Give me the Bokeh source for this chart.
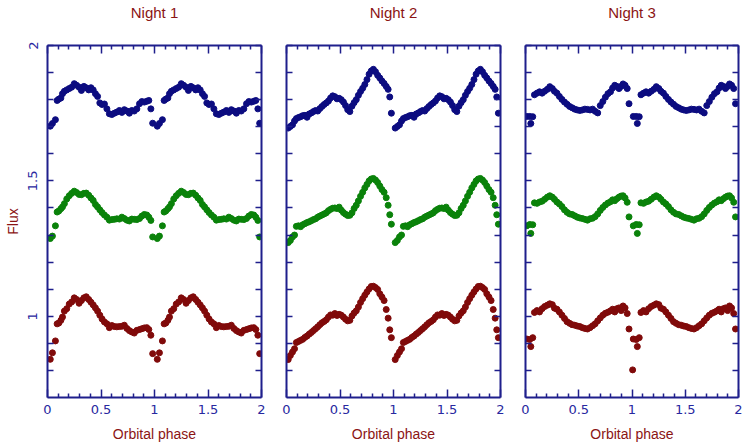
import math

from bokeh.embed import file_html
from bokeh.layouts import row
from bokeh.models import ColumnDataSource, FixedTicker, LinearAxis, Range1d
from bokeh.plotting import figure
from bokeh.resources import INLINE

# ---------------------------------------------------------------------------
# Light curves: orbital phase and relative flux in three bands for each night
# (blue and green bands are shifted upwards for display)
# ---------------------------------------------------------------------------
nan = float("nan")

night1_phase = [0.026, 0.046, 0.074, 0.090, 0.106, 0.125, 0.140, 0.158, 0.180, 0.203,
                0.226, 0.250, 0.272, 0.295, 0.317, 0.340, 0.362, 0.385, 0.406, 0.427,
                0.448, 0.468, 0.489, 0.510, 0.532, 0.555, 0.578, 0.601, 0.625, 0.648,
                0.672, 0.695, 0.718, 0.742, 0.765, 0.788, 0.811, 0.835, 0.860, 0.882,
                0.905, 0.928, 0.947, 0.966, 0.983]
night1_blue = [1.702, 1.712, 1.726, 1.797, 1.802, 1.806, 1.822, 1.831, 1.836, 1.841,
               1.846, 1.859, 1.853, 1.846, 1.834, 1.849, 1.844, 1.836, 1.844, 1.836,
               1.822, 1.812, 1.788, 1.782, 1.784, 1.766, 1.748, 1.745, 1.750, 1.754,
               1.760, 1.753, 1.763, 1.758, 1.750, 1.760, 1.758, 1.766, 1.785, 1.793,
               1.791, 1.794, 1.797, 1.766, 1.713]
night1_green = [1.287, 1.296, 1.334, 1.385, 1.389, 1.397, 1.404, 1.416, 1.433, 1.445,
                1.454, 1.462, 1.457, 1.450, 1.449, 1.454, 1.455, 1.447, 1.437, 1.428,
                1.413, 1.404, 1.393, 1.383, 1.374, 1.366, 1.355, 1.357, 1.358, 1.360,
                1.359, 1.366, 1.361, 1.355, 1.352, 1.359, 1.358, 1.357, 1.361, 1.370,
                1.376, 1.374, 1.366, 1.354, 1.293]
night1_red = [0.841, 0.865, 0.909, 0.972, 0.975, 0.985, 0.997, 1.019, 1.028, 1.045,
              1.053, 1.068, 1.062, 1.048, 1.058, 1.068, 1.072, 1.062, 1.052, 1.042,
              1.031, 1.019, 1.004, 0.990, 0.979, 0.972, 0.958, 0.966, 0.962, 0.961,
              0.962, 0.963, 0.967, 0.955, 0.947, 0.942, 0.938, 0.948, 0.951, 0.954,
              0.957, 0.958, 0.951, 0.930, 0.862]

night2_phase = [0.016, 0.036, 0.056, 0.075, 0.092, 0.112, 0.132, 0.152, 0.172, 0.192,
                0.212, 0.232, 0.252, 0.272, 0.292, 0.312, 0.332, 0.352, 0.372, 0.392,
                0.412, 0.432, 0.452, 0.472, 0.492, 0.512, 0.532, 0.552, 0.572, 0.592,
                0.612, 0.632, 0.652, 0.672, 0.692, 0.712, 0.732, 0.752, 0.772, 0.792,
                0.812, 0.832, 0.852, 0.872, 0.892, 0.912, 0.932, 0.950, 0.965, 0.980]
night2_blue = [1.695, 1.701, 1.707, 1.721, 1.730, 1.734, 1.737, 1.741, 1.742, 1.735,
               1.747, 1.751, 1.756, 1.760, 1.758, 1.767, 1.775, 1.782, 1.788, 1.795,
               1.806, 1.814, 1.811, 1.803, 1.805, 1.800, 1.791, 1.778, 1.763, 1.756,
               1.776, 1.789, 1.800, 1.816, 1.830, 1.842, 1.856, 1.874, 1.894, 1.906,
               1.912, 1.903, 1.890, 1.880, 1.869, 1.860, 1.849, 1.838, 1.810, 1.750]
night2_green = [1.272, 1.280, 1.293, 1.300, 1.332, 1.334, 1.331, 1.338, 1.342, 1.346,
                1.349, 1.353, 1.357, 1.360, 1.366, 1.370, 1.374, 1.378, 1.382, 1.390,
                1.395, 1.399, 1.400, 1.398, 1.403, 1.392, 1.383, 1.377, 1.372, 1.373,
                1.382, 1.398, 1.410, 1.426, 1.443, 1.458, 1.474, 1.487, 1.500, 1.507,
                1.509, 1.503, 1.494, 1.481, 1.468, 1.458, 1.438, 1.410, 1.375, 1.340]
night2_red = [0.840, 0.855, 0.868, 0.880, 0.903, 0.907, 0.911, 0.915, 0.922, 0.927,
              0.934, 0.940, 0.947, 0.954, 0.961, 0.969, 0.976, 0.981, 0.987, 0.997,
              1.005, 1.004, 1.010, 1.003, 1.007, 1.004, 0.997, 0.989, 0.983, 0.985,
              1.001, 1.012, 1.020, 1.034, 1.051, 1.065, 1.078, 1.090, 1.101, 1.110,
              1.111, 1.106, 1.099, 1.083, 1.071, 1.058, 1.025, 0.993, 0.950, 0.921]

night3_phase = [0.012, 0.040, 0.050, 0.068, 0.084, 0.108, 0.132, 0.156, 0.180, 0.205,
                0.228, 0.252, 0.272, 0.295, 0.318, 0.342, 0.366, 0.390, 0.414, 0.438,
                0.462, 0.486, 0.510, 0.534, 0.558, 0.582, 0.606, 0.630, 0.654, 0.678,
                0.702, 0.726, 0.750, 0.774, 0.798, 0.818, 0.838, 0.858, 0.878, 0.898,
                0.916, 0.935, 0.955, 0.972, 1.006]
night3_blue = [1.738, 1.738, 1.712, 1.737, 1.818, 1.824, 1.829, 1.824, 1.831, 1.838,
               1.848, 1.841, 1.831, 1.824, 1.812, 1.801, 1.791, 1.783, 1.775, 1.770,
               1.765, 1.762, 1.760, 1.762, 1.765, 1.764, 1.762, 1.765, 1.757, 1.751,
               1.778, 1.793, 1.809, 1.822, 1.829, 1.843, 1.853, 1.849, 1.841, 1.849,
               1.858, 1.853, 1.841, 1.785, nan]
night3_green = [1.334, 1.339, 1.306, 1.338, 1.419, 1.417, 1.422, 1.425, 1.432, 1.440,
                1.445, 1.440, 1.432, 1.422, 1.415, 1.405, 1.393, 1.384, 1.378, 1.376,
                1.371, 1.366, 1.363, 1.361, 1.358, 1.355, 1.360, 1.362, 1.368, 1.378,
                1.391, 1.402, 1.411, 1.418, 1.423, 1.430, 1.427, 1.434, 1.440, 1.444,
                1.445, 1.437, 1.421, 1.367, nan]
night3_red = [0.916, 0.914, 0.888, 0.921, 1.014, 1.021, 1.016, 1.028, 1.036, 1.041,
              1.046, 1.043, 1.030, 1.026, 1.016, 1.004, 0.992, 0.980, 0.974, 0.969,
              0.967, 0.964, 0.962, 0.958, 0.955, 0.953, 0.958, 0.965, 0.972, 0.983,
              0.994, 1.004, 1.011, 1.015, 1.020, 1.026, 1.016, 1.028, 1.031, 1.021,
              1.038, 1.031, 1.010, 0.953, 0.802]

night_titles = ["Night 1", "Night 2", "Night 3"]

# axis ticks
x_major = [0, 0.5, 1, 1.5, 2]
x_minor = [0.1, 0.2, 0.3, 0.4, 0.6, 0.7, 0.8, 0.9, 1.1, 1.2, 1.3, 1.4, 1.6, 1.7, 1.8, 1.9]
x_labels = {0: "0", 0.5: "0.5", 1: "1", 1.5: "1.5", 2: "2"}
y_major = [1, 1.5, 2]
y_minor = [0.8, 0.9, 1.1, 1.2, 1.3, 1.4, 1.6, 1.7, 1.8, 1.9]
y_labels = {1: "1", 1.5: "1.5", 2: "2"}

# ---------------------------------------------------------------------------
AXIS_COLOR = "#1f1f8c"
TICK_LABEL_COLOR = "#2828a0"
TEXT_COLOR = "#8b1414"
BAND_COLORS = [("blue", "#0c0c80"), ("green", "#0a820a"), ("red", "#800a0a")]
FONT = "Liberation Sans"
TICK_FONT = "DejaVu Sans"


def style_axis(ax, tick_in, minor_in, show_labels, labels):
    ax.axis_line_color = AXIS_COLOR
    ax.axis_line_width = 2
    ax.major_tick_line_color = AXIS_COLOR
    ax.minor_tick_line_color = AXIS_COLOR
    ax.major_tick_line_width = 1.5
    ax.minor_tick_line_width = 1.5
    ax.major_tick_in = tick_in
    ax.major_tick_out = 0
    ax.minor_tick_in = minor_in
    ax.minor_tick_out = 0
    if show_labels:
        ax.major_label_overrides = labels
        ax.major_label_text_color = TICK_LABEL_COLOR
        ax.major_label_text_font = TICK_FONT
        ax.major_label_text_font_size = "13px"
    else:
        ax.major_label_overrides = {k: "" for k in labels}
        ax.major_label_text_font_size = "0px"
        ax.major_label_standoff = 0


def style_label(ax, text, size, standoff):
    ax.axis_label = text
    ax.axis_label_text_color = TEXT_COLOR
    ax.axis_label_text_font = FONT
    ax.axis_label_text_font_style = "normal"
    ax.axis_label_text_font_size = size
    ax.axis_label_standoff = standoff


def make_panel(index, phase, bands, frame_width, border_left, border_right):
    first = index == 0
    p = figure(
        frame_width=frame_width, frame_height=352,
        x_range=Range1d(0, 2), y_range=Range1d(0.7, 2.0),
        x_axis_location=None, y_axis_location=None,
        min_border_left=border_left, min_border_right=border_right,
        min_border_top=45, min_border_bottom=48,
        output_backend="svg", toolbar_location=None,
    )
    p.grid.visible = False
    p.outline_line_color = None
    p.background_fill_color = "white"
    p.border_fill_color = "white"

    # bottom / top phase axes; the night name sits above the top axis
    bottom = LinearAxis(ticker=FixedTicker(ticks=x_major, minor_ticks=x_minor))
    style_axis(bottom, 8, 4, True, x_labels)
    bottom.major_label_standoff = 7
    style_label(bottom, "Orbital phase", "14px", 9)
    p.add_layout(bottom, "below")

    top = LinearAxis(ticker=FixedTicker(ticks=x_major, minor_ticks=x_minor))
    style_axis(top, 8, 4, False, x_labels)
    style_label(top, night_titles[index], "15px", 25)
    p.add_layout(top, "above")

    # flux axes
    left = LinearAxis(ticker=FixedTicker(ticks=y_major, minor_ticks=y_minor))
    style_axis(left, 6, 6, first, y_labels)
    if first:
        left.major_label_orientation = "vertical"
        left.major_label_standoff = 10
        style_label(left, "Flux", "14px", 5)
    p.add_layout(left, "left")

    right = LinearAxis(ticker=FixedTicker(ticks=y_major, minor_ticks=y_minor))
    style_axis(right, 6, 6, False, y_labels)
    p.add_layout(right, "right")

    # two orbital cycles: phase and phase + 1
    for (name, color), flux in zip(BAND_COLORS, bands):
        xs, ys = [], []
        for shift in (0, 1):
            for ph, fl in zip(phase, flux):
                x = ph + shift
                if x <= 2 and not math.isnan(fl):
                    xs.append(x)
                    ys.append(fl)
        src = ColumnDataSource(data=dict(x=xs, y=ys))
        p.scatter("x", "y", source=src, size=6, color=color, marker="circle")
    return p


nights = [
    (night1_phase, [night1_blue, night1_green, night1_red]),
    (night2_phase, [night2_blue, night2_green, night2_red]),
    (night3_phase, [night3_blue, night3_green, night3_red]),
]
for ph, bands in nights:
    for b in bands:
        assert len(b) == len(ph)

p1 = make_panel(0, *nights[0], frame_width=214, border_left=47, border_right=12)
p2 = make_panel(1, *nights[1], frame_width=214, border_left=13, border_right=12)
p3 = make_panel(2, *nights[2], frame_width=213, border_left=13, border_right=5)

layout = row(p1, p2, p3)

with open("out.html", "w") as f:
    f.write(file_html(layout, INLINE))
